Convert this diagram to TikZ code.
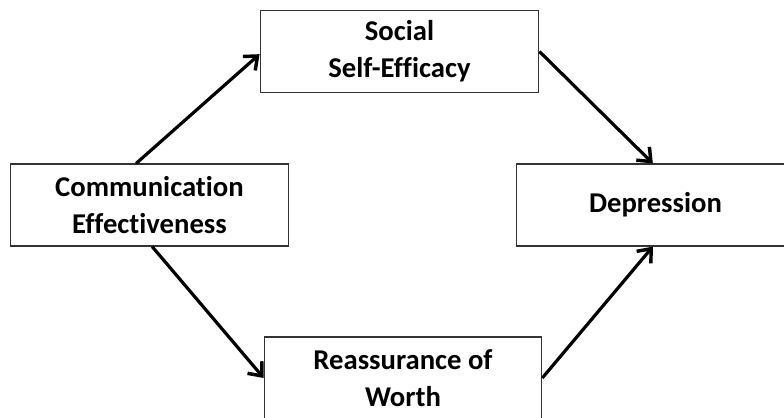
\documentclass[tikz,border=0pt]{standalone}
\usepackage{fontspec}
\setmainfont{Carlito}[Ligatures=NoCommon]
\usetikzlibrary{arrows.meta,positioning}

\tikzset{
  varbox/.style={draw=black!80,line width=0.9pt,fill=white,
        minimum width=208pt,minimum height=61.5pt,align=center,
        font=\fontsize{21.5}{28}\selectfont\bfseries},
  path/.style={line width=2.4pt,-{Straight Barb[length=8.5pt,width=14pt,line width=2.6pt]}}
}

\begin{document}
\begin{tikzpicture}[x=0.75pt,y=-0.75pt]
  \useasboundingbox (0,0) rectangle (784,417);
  % Predictor
  \node[varbox] (comm) at (149.5,205) {Communication\\Effectiveness};
  % Mediator 1
  \node[varbox,minimum width=209pt] (social) at (399.5,51.5) {Social\\Self-Efficacy};
  % Mediator 2
  \node[varbox] (reass) at (403,378) {Reassurance of\\Worth};
  % Outcome
  \node[varbox,minimum width=209pt] (dep) at (655.5,205) {Depression};
  % Paths
  \draw[path] ([xshift=-10pt]comm.north) -- ([yshift=-2pt]social.west);
  \draw[path] (social.east) -- ([xshift=-2pt]dep.north);
  \draw[path] ([xshift=2pt]comm.south) -- (reass.west);
  \draw[path] (reass.east) -- ([xshift=-2pt]dep.south);
\end{tikzpicture}
\end{document}
